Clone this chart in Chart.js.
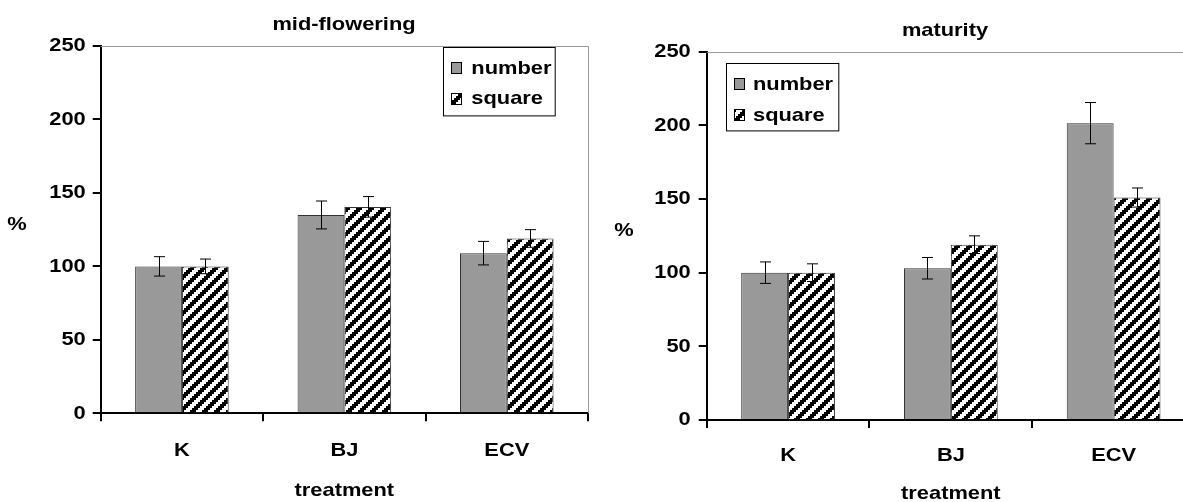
<!DOCTYPE html>
<html><head><meta charset="utf-8">
<script src="https://cdn.jsdelivr.net/npm/chart.js@4/dist/chart.umd.min.js"></script>
<style>
html,body{margin:0;padding:0;background:#fff;overflow:hidden;}
#wrap{position:relative;width:1183px;height:502px;overflow:hidden;background:#fff;}
canvas{position:absolute;top:0;}
#c1{left:0;}
#c2{left:600px;}
</style></head><body>
<div id="wrap"><canvas id="c1" width="688" height="502" style="width:688px;height:502px"></canvas><canvas id="c2" width="690" height="506" style="width:690px;height:506px"></canvas></div>
<script>
// ---- data ----
const categories = ['K', 'BJ', 'ECV'];
const seriesNames = ['number', 'square'];
const yTicks = [0, 50, 100, 150, 200, 250];
const xAxisTitle = 'treatment';
const yAxisTitle = '%';

const flowerTitle = 'mid-flowering';
const flowerNumber = [100, 135, 109];
const flowerNumberErr = [6.6, 9.5, 8];
const flowerSquare = [100, 140.5, 119];
const flowerSquareErr = [5, 7, 6];

const maturityTitle = 'maturity';
const maturityNumber = [100, 103, 201.5];
const maturityNumberErr = [7.3, 7.3, 14];
const maturitySquare = [100, 119, 151];
const maturitySquareErr = [6, 6, 6.5];

// ---- styling helpers ----
const FONT = 'Liberation Sans';
const FS = 19;
const STRETCH = 1.15; // the original figure's text is horizontally widened

function stretchText(canvas, k) {
  const ctx = canvas.getContext('2d');
  const orig = ctx.fillText;
  ctx.fillText = function (text, x, y, maxWidth) {
    this.save();
    this.translate(x, y);
    this.scale(k, 1);
    if (maxWidth === undefined || maxWidth === null) orig.call(this, text, 0, 0);
    else orig.call(this, text, 0, 0, maxWidth / k);
    this.restore();
  };
}

function makeStripe() {
  // blocky "wide upward diagonal" hatch, 2px steps, 12px period
  const c = document.createElement('canvas');
  c.width = 12; c.height = 12;
  const g = c.getContext('2d');
  g.fillStyle = '#fff'; g.fillRect(0, 0, 12, 12);
  g.fillStyle = '#000';
  for (let bx = 0; bx < 6; bx++) for (let by = 0; by < 6; by++) {
    if ((bx + by) % 6 < 3) g.fillRect(bx * 2, by * 2, 2, 2);
  }
  return g.createPattern(c, 'repeat');
}
const stripe = makeStripe();
const GRAY = '#999999';

const errorBars = {
  id: 'errorBars',
  afterDatasetsDraw(chart) {
    const ctx = chart.ctx, ys = chart.scales.y;
    ctx.save();
    ctx.strokeStyle = '#000'; ctx.lineWidth = 1;
    chart.data.datasets.forEach((ds, i) => {
      const meta = chart.getDatasetMeta(i);
      meta.data.forEach((el, j) => {
        const v = ds.data[j], e = ds.errors[j];
        const x = Math.round(el.x) + 0.5;
        const t = ys.getPixelForValue(v + e), b = ys.getPixelForValue(v - e);
        ctx.beginPath();
        ctx.moveTo(x, t); ctx.lineTo(x, b);
        ctx.moveTo(x - 5.5, t); ctx.lineTo(x + 5.5, t);
        ctx.moveTo(x - 5.5, b); ctx.lineTo(x + 5.5, b);
        ctx.stroke();
      });
    });
    ctx.restore();
  }
};

const frame = {
  id: 'frame',
  beforeDatasetsDraw(chart) {
    const {ctx, chartArea: a} = chart;
    ctx.save();
    ctx.strokeStyle = '#9a9a9a'; ctx.lineWidth = 1;
    ctx.beginPath();
    ctx.moveTo(a.left, Math.round(a.top) + 0.5); ctx.lineTo(a.right, Math.round(a.top) + 0.5);
    ctx.moveTo(Math.round(a.right) + 0.5, a.top); ctx.lineTo(Math.round(a.right) + 0.5, a.bottom);
    ctx.stroke();
    ctx.restore();
  },
  afterDraw(chart, args, opts) {
    const {ctx, chartArea: a} = chart;
    ctx.save();
    // y axis title (horizontal, as in the original)
    ctx.fillStyle = '#000';
    ctx.font = 'bold ' + FS + 'px "' + FONT + '"';
    ctx.textAlign = 'center'; ctx.textBaseline = 'middle';
    ctx.fillText(yAxisTitle, a.left + opts.pctDx, (a.top + a.bottom) / 2 + opts.pctDy);
    // legend box
    const L = opts.legend;
    const bx = L.fromRight ? a.right - L.dx : a.left + L.dx;
    const by = a.top + L.dy;
    ctx.fillStyle = '#fff';
    ctx.fillRect(bx, by, L.w, L.h);
    ctx.strokeStyle = '#000'; ctx.lineWidth = 1;
    ctx.strokeRect(Math.round(bx) + 0.5, Math.round(by) + 0.5, L.w, L.h);
    ctx.textAlign = 'left';
    chart.data.datasets.forEach((ds, i) => {
      const cy = by + L.rows[i];
      const sx = Math.round(bx + 8), sy = Math.round(cy - 6);
      ctx.fillStyle = ds.backgroundColor;
      ctx.fillRect(sx, sy, 10, 11);
      ctx.strokeStyle = '#000';
      ctx.strokeRect(sx + 0.5, sy + 0.5, 10, 11);
      ctx.fillStyle = '#000';
      ctx.fillText(ds.label, bx + L.textDx, cy);
    });
    ctx.restore();
  }
};

function makeChart(id, cfg) {
  const canvas = document.getElementById(id);
  stretchText(canvas, STRETCH);
  return new Chart(canvas, {
    type: 'bar',
    data: {
      labels: categories,
      datasets: [
        {label: seriesNames[0], data: cfg.number, errors: cfg.numberErr,
         backgroundColor: GRAY, borderColor: '#333', borderWidth: 1,
         categoryPercentage: 0.576, barPercentage: 1},
        {label: seriesNames[1], data: cfg.square, errors: cfg.squareErr,
         backgroundColor: stripe, borderColor: '#333', borderWidth: 1,
         categoryPercentage: 0.576, barPercentage: 1}
      ]
    },
    plugins: [frame, errorBars],
    options: {
      responsive: false, animation: false, events: [],
      devicePixelRatio: 1,
      layout: {padding: 0},
      plugins: {
        legend: {display: false},
        tooltip: {enabled: false},
        title: {display: true, text: cfg.title, color: '#000',
                font: {family: FONT, weight: 'bold', size: FS},
                padding: cfg.titlePad},
        frame: cfg.frame
      },
      scales: {
        x: {
          grid: {display: true, drawOnChartArea: false, drawTicks: true, tickLength: 8,
                 color: '#000', lineWidth: 2, offset: true},
          border: {display: true, color: '#000', width: 2},
          ticks: {color: '#000', font: {family: FONT, weight: 'bold', size: FS}, padding: cfg.xTickPad,
                  maxRotation: 0, autoSkip: false},
          title: {display: true, text: xAxisTitle, color: '#000',
                  font: {family: FONT, weight: 'bold', size: FS}, padding: {top: 0, bottom: cfg.xTitlePadB}},
          afterFit: s => { s.height = cfg.xHeight; }
        },
        y: {
          min: 0, max: 250,
          afterBuildTicks: s => { s.ticks = yTicks.map(v => ({value: v})); },
          grid: {display: true, drawOnChartArea: false, drawTicks: true, tickLength: 8,
                 color: '#000', lineWidth: 2},
          border: {display: true, color: '#000', width: 2},
          ticks: {color: '#000', font: {family: FONT, weight: 'bold', size: FS}, padding: cfg.yTickPad},
          afterFit: s => { s.width = cfg.yWidth; }
        },
        yr: {
          type: 'linear', position: 'right', display: true,
          grid: {display: false}, border: {display: false}, ticks: {display: false},
          afterFit: s => { s.width = cfg.rWidth; }
        }
      }
    }
  });
}

makeChart('c1', {
  title: flowerTitle, number: flowerNumber, numberErr: flowerNumberErr,
  square: flowerSquare, squareErr: flowerSquareErr,
  titlePad: {top: 13.7, bottom: 9.5},
  xHeight: 88.7, xTickPad: 18, xTitlePadB: 0, yWidth: 100.7, yTickPad: 7, rWidth: 100,
  frame: {pctDx: -83.7, pctDy: -4.6,
          legend: {fromRight: true, dx: 144.7, dy: 1.3, w: 111.7, h: 68.4, rows: [21, 51.5], textDx: 28}}
});

makeChart('c2', {
  title: maturityTitle, number: maturityNumber, numberErr: maturityNumberErr,
  square: maturitySquare, squareErr: maturitySquareErr,
  titlePad: {top: 19.7, bottom: 9.2},
  xHeight: 86, xTickPad: 16.2, xTitlePadB: 0.4, yWidth: 106.7, yTickPad: 8, rWidth: 95,
  frame: {pctDx: -82.7, pctDy: -5.5,
          legend: {fromRight: false, dx: 19.3, dy: 11.6, w: 112.3, h: 67.4, rows: [21, 52], textDx: 27}}
});
</script>
</body></html>
